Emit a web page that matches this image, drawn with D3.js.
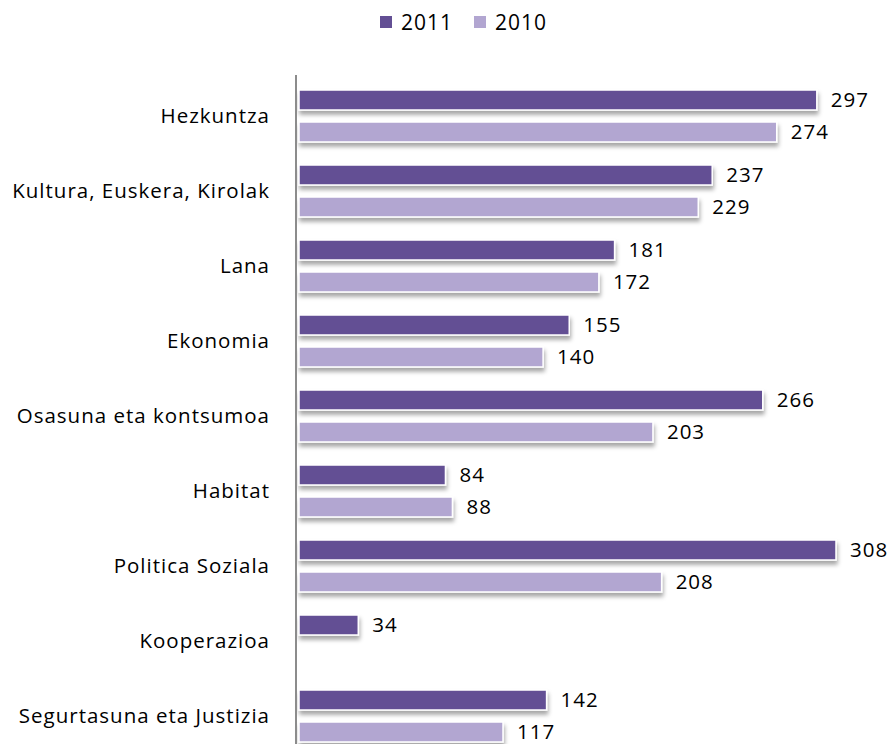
<!DOCTYPE html>
<html>
<head>
<meta charset="utf-8">
<script src="https://cdn.jsdelivr.net/npm/d3@7"></script>
<style>
  body { margin: 0; background: #fff; }
  text { font-family: "Open Sans", Lato, sans-serif; fill: #000; letter-spacing: 1px; }
</style>
</head>
<body>
<div id="chart"></div>
<script>
const categories = ["Hezkuntza", "Kultura, Euskera, Kirolak", "Lana", "Ekonomia", "Osasuna eta kontsumoa",
  "Habitat", "Politica Soziala", "Kooperazioa", "Segurtasuna eta Justizia"];
const seriesNames = ["2011", "2010"];
const values2011 = [297, 237, 181, 155, 266, 84, 308, 34, 142];
const values2010 = [274, 229, 172, 140, 203, 88, 208, null, 117];
const colors = ["#634f94", "#b2a6d1"];

const width = 892, height = 744;

const svg = d3.select("#chart")
  .append("svg")
  .attr("width", width)
  .attr("height", height);

// drop shadow like the office chart
const defs = svg.append("defs");
const f = defs.append("filter").attr("id", "shadow")
  .attr("x", "-5%").attr("y", "-30%").attr("width", "115%").attr("height", "190%");
f.append("feDropShadow")
  .attr("dx", 1).attr("dy", 4).attr("stdDeviation", 2.2)
  .attr("flood-color", "#000").attr("flood-opacity", 0.35);

const x = d3.scaleLinear().domain([0, 308]).range([299, 836]);

const y = d3.scaleBand().domain(categories).range([78.5, 78.5 + 75 * categories.length]);
const ySub = d3.scaleBand().domain(seriesNames).range([0, y.bandwidth()])
  .paddingInner(0.375).paddingOuter(0.36);

const data = categories.map((c, i) => ({ cat: c, vals: [values2011[i], values2010[i]] }));

const groups = svg.selectAll("g.grp")
  .data(data)
  .enter().append("g")
  .attr("class", "grp")
  .attr("transform", d => `translate(0,${y(d.cat)})`);

seriesNames.forEach((s, si) => {
  const withVal = groups.filter(d => d.vals[si] != null);
  withVal.append("rect")
    .attr("x", x(0))
    .attr("y", ySub(s))
    .attr("width", d => x(d.vals[si]) - x(0))
    .attr("height", ySub.bandwidth())
    .attr("fill", colors[si])
    .attr("stroke", "#fff")
    .attr("stroke-width", 1.5)
    .attr("filter", "url(#shadow)");
  withVal.append("text")
    .attr("x", d => x(d.vals[si]) + 14)
    .attr("y", ySub(s) + ySub.bandwidth() / 2)
    .attr("dy", "0.36em")
    .style("font-size", "20.5px")
    .text(d => d.vals[si]);
});

// category labels
const axis = d3.axisLeft(y).tickSize(0).tickPadding(26);
const gAxis = svg.append("g")
  .attr("transform", `translate(296,0)`)
  .call(axis);
gAxis.select(".domain").remove();
gAxis.selectAll("text")
  .style("font-size", "20.5px")
  .style("font-family", "'Open Sans', Lato, sans-serif")
  .attr("fill", "#000");

svg.append("line")
  .attr("x1", 296).attr("x2", 296)
  .attr("y1", 75).attr("y2", height)
  .attr("stroke", "#8c8c8c")
  .attr("stroke-width", 2);

// legend
const legend = svg.append("g").attr("transform", "translate(380,16)");
seriesNames.forEach((s, i) => {
  const g = legend.append("g").attr("transform", `translate(${i * 94},0)`);
  g.append("rect").attr("width", 12).attr("height", 12).attr("fill", colors[i]);
  g.append("text")
    .attr("x", 21).attr("y", 6).attr("dy", "0.36em")
    .style("font-size", "21px")
    .text(s);
});
</script>
</body>
</html>
